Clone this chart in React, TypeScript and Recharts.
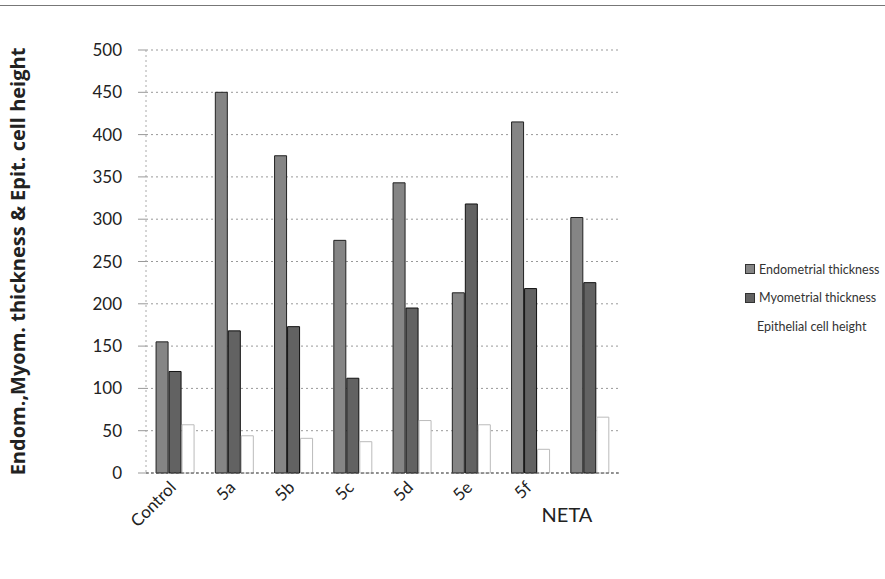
import React from 'react';
import { BarChart, Bar, XAxis, YAxis, CartesianGrid } from 'recharts';

const categories = ['Control', '5a', '5b', '5c', '5d', '5e', '5f', 'NETA'];
const endometrial = [155, 450, 375, 275, 343, 213, 415, 302];
const myometrial = [120, 168, 173, 112, 195, 318, 218, 225];
const epithelial = [57, 44, 41, 37, 62, 57, 28, 66];
const yTicks = [0, 50, 100, 150, 200, 250, 300, 350, 400, 450, 500];

const seriesNames = ['Endometrial thickness', 'Myometrial thickness', 'Epithelial cell height'];

const FONT = 'Lato, "Open Sans", sans-serif';

// 柱子数据
const data = categories.map((name, i) => ({
  name,
  endo: endometrial[i],
  myo: myometrial[i],
  epi: epithelial[i],
}));

const XTick = (props: any) => {
  const { x, y, payload } = props;
  if (payload.value === 'NETA') {
    return (
      <text x={x + 2} y={y + 41} textAnchor="end" fontSize={20} fill="#222" fontFamily={FONT}>
        {payload.value}
      </text>
    );
  }
  return (
    <g transform={`translate(${x - 2},${y + 4})`}>
      <text transform="rotate(-45)" textAnchor="end" dy={5} fontSize={17} fill="#222" fontFamily={FONT}>
        {payload.value}
      </text>
    </g>
  );
};

export default function App() {
  return (
    <div style={{ position: 'absolute', left: 0, top: 0, width: 885, height: 579, background: '#fff' }}>
      <div style={{ position: 'absolute', left: 0, top: 5, width: 885, borderTop: '1px solid #777' }} />
      <BarChart
        width={885}
        height={579}
        data={data}
        margin={{ top: 50, right: 265, bottom: 76, left: 0 }}
        barCategoryGap="17%"
        barGap={1}
      >
        <CartesianGrid vertical={false} stroke="#999" strokeDasharray="2 3" />
        <XAxis
          dataKey="name"
          tick={<XTick />}
          tickLine={false}
          axisLine={{ stroke: '#555', strokeDasharray: '3 2' }}
          interval={0}
        />
        <YAxis
          domain={[0, 500]}
          ticks={yTicks}
          width={146}
          tickSize={8}
          tickMargin={16}
          tick={{ fontSize: 17, fill: '#222', fontFamily: FONT }}
          tickLine={{ stroke: '#999' }}
          axisLine={{ stroke: '#aaa', strokeDasharray: '2 3' }}
          label={{
            value: 'Endom.,Myom. thickness & Epit. cell height',
            angle: -90,
            position: 'insideLeft',
            offset: 18,
            style: { textAnchor: 'middle', fontSize: 20, fontWeight: 'bold', fill: '#222', fontFamily: '"Open Sans", sans-serif' },
          }}
        />
        <Bar dataKey="endo" name={seriesNames[0]} fill="#858585" stroke="#222" strokeWidth={1} isAnimationActive={false} />
        <Bar dataKey="myo" name={seriesNames[1]} fill="#626262" stroke="#111" strokeWidth={1} isAnimationActive={false} />
        <Bar dataKey="epi" name={seriesNames[2]} fill="#fff" stroke="#bbb" strokeWidth={1} isAnimationActive={false} />
      </BarChart>
      {/* 图例 */}
      <div style={{ position: 'absolute', left: 745, top: 255, fontFamily: FONT, fontSize: 12.5, color: '#333', whiteSpace: 'nowrap' }}>
        {seriesNames.map((n, i) => (
          <div key={n} style={{ display: 'flex', alignItems: 'center', height: 28.5 }}>
            <span
              style={{
                display: 'inline-block',
                width: 8,
                height: 8,
                marginRight: 4,
                background: i === 0 ? '#858585' : i === 1 ? '#626262' : '#fff',
                border: i === 2 ? 'none' : '1px solid #333',
              }}
            />
            {n}
          </div>
        ))}
      </div>
    </div>
  );
}
